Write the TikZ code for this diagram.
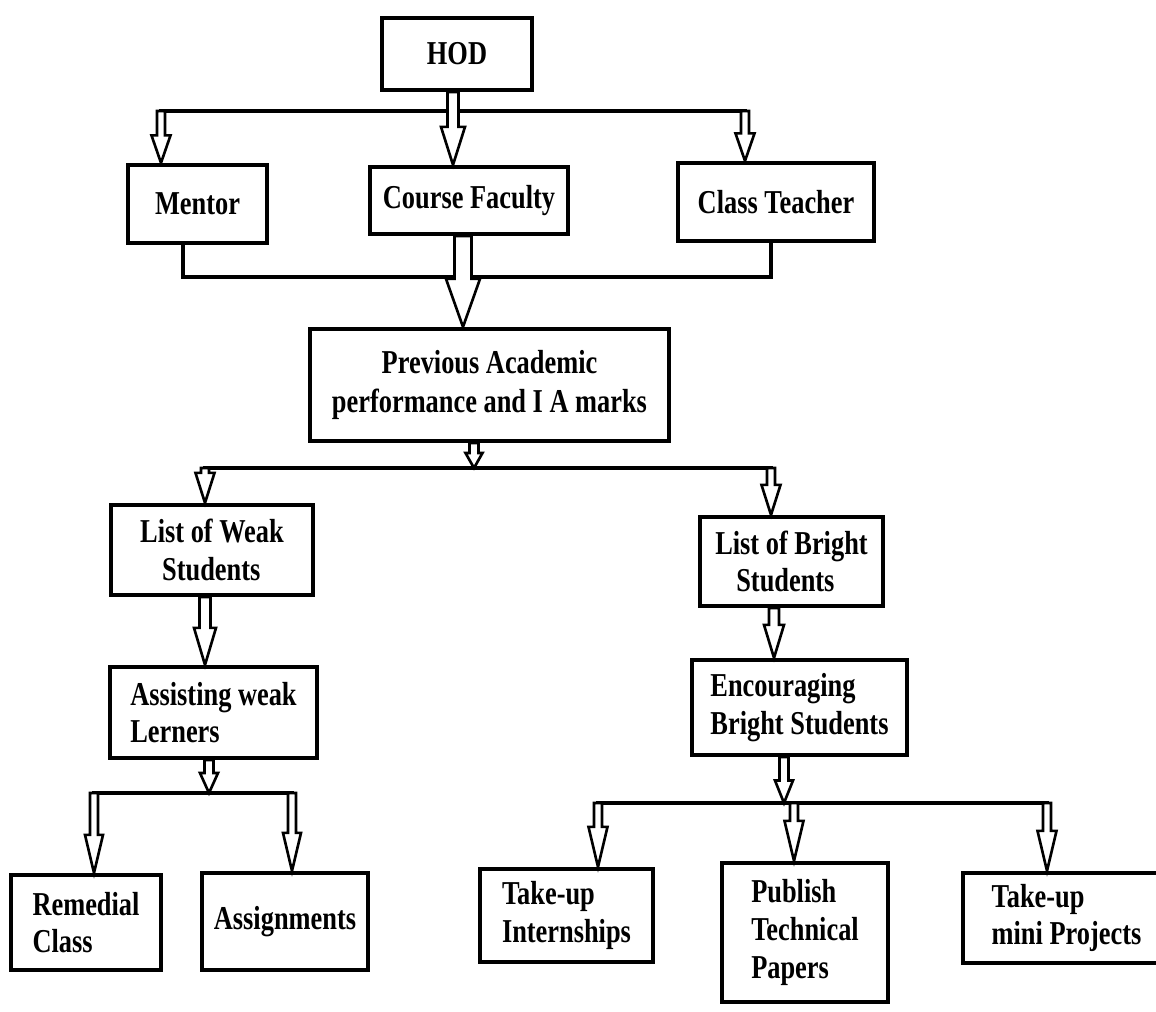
\documentclass[tikz,border=0pt]{standalone}
\usepackage{fontspec}
\setmainfont{Liberation Serif}[FakeStretch=0.79]
\usetikzlibrary{positioning,calc}
\tikzstyle{block} = [draw, line width=2.4pt, align=left, inner sep=2pt, font=\bfseries\fontsize{19}{21.5}\selectfont]
\tikzstyle{hollow} = [draw, fill=white, line width=1.5pt, line join=miter]
\tikzstyle{bar} = [line width=2.3pt, line cap=rect]
% hollow arrow: shaft half width, head half width, head length, from, to
\newcommand{\blockarrow}[5]{%
  \draw[hollow] let \p1=(#4), \p2=(#5) in
    (\x1-#1,\y1) -- (\x1-#1,\y2+#3) -- (\x1-#2,\y2+#3) -- (\x1,\y2)
    -- (\x1+#2,\y2+#3) -- (\x1+#1,\y2+#3) -- (\x1+#1,\y1) -- cycle;}

\begin{document}
\begin{tikzpicture}
            \useasboundingbox (0,0) rectangle (23.12,-20.24);
            %%%%% Top level %%%%%
            \node (hod) [block, minimum width=3.0cm, minimum height=1.44cm] at (9.14,-1.08) {HOD};
            \node (mentor) [block, minimum width=2.78cm, minimum height=1.56cm] at (3.95,-4.08) {Mentor};
            \node (faculty) [block, minimum width=3.96cm, minimum height=1.34cm] at (9.38,-4.01) {Course Faculty};
            \node (teacher) [block, minimum width=3.92cm, minimum height=1.56cm] at (15.52,-4.04) {Class Teacher};
            \coordinate (b1l) at (3.22,-2.22);
            \coordinate (b1m) at (9.06,-2.22);
            \coordinate (b1r) at (14.9,-2.22);
            \draw [bar] (b1l) -- (b1r);
            \blockarrow{0.11cm}{0.24cm}{0.76cm}{b1m |- hod.south}{faculty.north}
            \blockarrow{0.08cm}{0.19cm}{0.55cm}{b1l}{mentor.north}
            \blockarrow{0.08cm}{0.19cm}{0.55cm}{b1r}{teacher.north}
            %%%%% Marks %%%%%
            \node (prev) [block, align=center, minimum width=7.18cm, minimum height=2.24cm, font=\bfseries\fontsize{19}{22.7}\selectfont] at (9.79,-7.7) {Previous Academic\\performance and I A marks};
            \coordinate (j1) at (3.66,-5.54);
            \coordinate (j2) at (15.42,-5.54);
            \coordinate (fa) at (9.26,-5.54);
            \draw [bar] (j1 |- mentor.south) -- (j1) -- (j2) -- (j2 |- teacher.south);
            \blockarrow{0.17cm}{0.34cm}{0.96cm}{fa |- faculty.south}{prev.north}
            %%%%% Weak and bright %%%%%
            \node (weak) [block, minimum width=4.04cm, minimum height=1.8cm] at (4.24,-11.0) {List of Weak\\\hspace{0.44cm}Students};
            \node (bright) [block, minimum width=3.66cm, minimum height=1.78cm] at (15.83,-11.23) {List of Bright\\\hspace{0.42cm}Students};
            \coordinate (b2m) at (9.48,-9.36);
            \coordinate (b2l) at (4.1,-9.36);
            \coordinate (b2r) at (15.42,-9.36);
            \draw [bar] (b2l) -- (b2r);
            \blockarrow{0.09cm}{0.17cm}{0.3cm}{b2m |- prev.south}{b2m}
            \blockarrow{0.08cm}{0.19cm}{0.6cm}{b2l}{weak.north}
            \blockarrow{0.08cm}{0.19cm}{0.6cm}{b2r}{bright.north}
            \node (assist) [block, minimum width=4.14cm, minimum height=1.82cm] at (4.27,-14.25) {Assisting weak\\Lerners};
            \node (encour) [block, minimum width=4.3cm, minimum height=1.9cm] at (15.99,-14.15) {Encouraging\\Bright Students};
            \coordinate (wa) at (4.1,-12);
            \coordinate (be) at (15.48,-12);
            \blockarrow{0.11cm}{0.22cm}{0.74cm}{wa |- weak.south}{assist.north}
            \blockarrow{0.1cm}{0.2cm}{0.66cm}{be |- bright.south}{encour.north}
            %%%%% Weak learners %%%%%
            \node (remedial) [block, minimum width=3.0cm, minimum height=1.9cm] at (1.72,-18.45) {Remedial\\Class};
            \node (assign) [block, minimum width=3.32cm, minimum height=1.94cm] at (5.7,-18.43) {Assignments};
            \coordinate (b3m) at (4.18,-15.86);
            \coordinate (b3l) at (1.88,-15.86);
            \coordinate (b3r) at (5.84,-15.86);
            \draw [bar] (b3l) -- (b3r);
            \blockarrow{0.09cm}{0.18cm}{0.4cm}{b3m |- assist.south}{b3m}
            \blockarrow{0.08cm}{0.18cm}{0.76cm}{b3l}{remedial.north}
            \blockarrow{0.08cm}{0.18cm}{0.76cm}{b3r}{assign.north}
            %%%%% Bright students %%%%%
            \node (intern) [block, minimum width=3.46cm, minimum height=1.86cm] at (11.33,-18.31) {Take-up\\Internships};
            \node (publish) [block, minimum width=3.32cm, minimum height=2.78cm] at (16.1,-18.65) {Publish\\Technical\\Papers};
            \node (mini) [block, minimum width=4.14cm, minimum height=1.8cm] at (21.33,-18.36) {Take-up\\mini Projects};
            \coordinate (b4m) at (15.68,-16.06);
            \coordinate (b4l) at (11.96,-16.06);
            \coordinate (b4c) at (15.88,-16.06);
            \coordinate (b4r) at (20.94,-16.06);
            \draw [bar] (b4l) -- (b4r);
            \blockarrow{0.09cm}{0.18cm}{0.45cm}{b4m |- encour.south}{b4m}
            \blockarrow{0.08cm}{0.19cm}{0.8cm}{b4l}{intern.north}
            \blockarrow{0.08cm}{0.19cm}{0.8cm}{b4c}{publish.north}
            \blockarrow{0.08cm}{0.19cm}{0.8cm}{b4r}{mini.north}
\end{tikzpicture}
\end{document}
